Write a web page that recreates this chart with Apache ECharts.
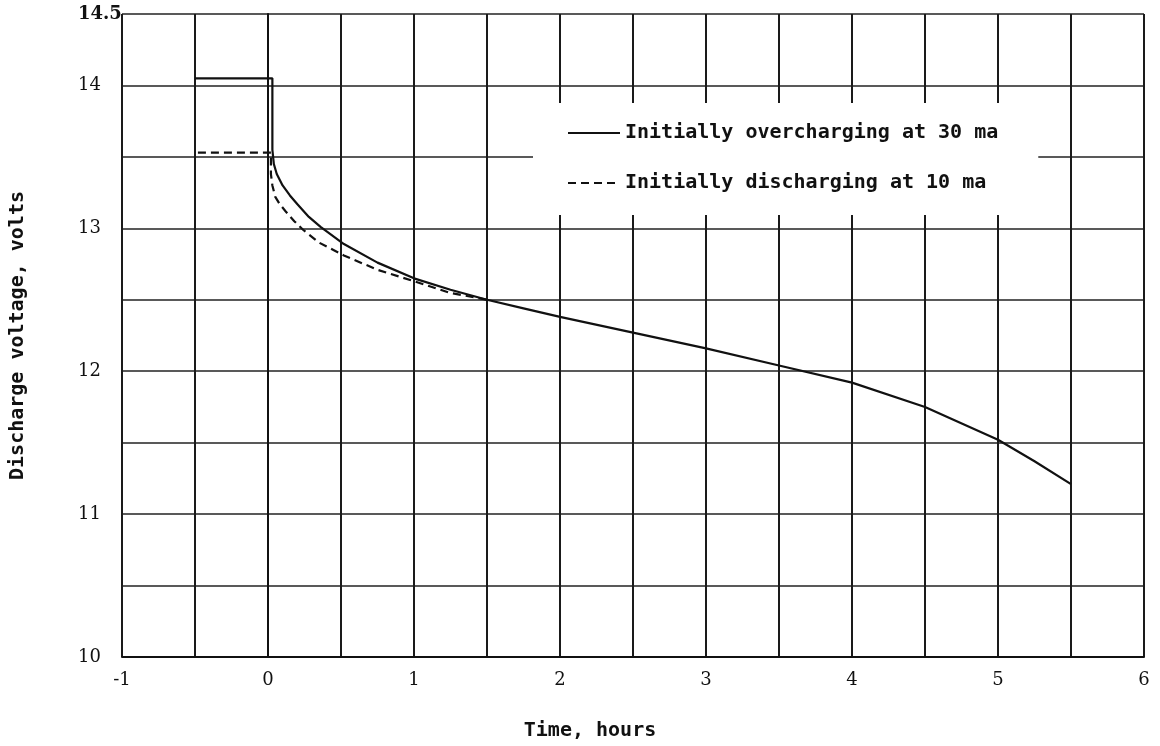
<!DOCTYPE html>
<html><head><meta charset="utf-8">
<script src="https://cdn.jsdelivr.net/npm/echarts@6/dist/echarts.min.js"></script>
<style>html,body{margin:0;padding:0;background:#fff}#c{width:1160px;height:746px}</style>
</head><body><div id="c"></div>
<script>
const seriesNames = ['Initially overcharging at 30 ma', 'Initially discharging at 10 ma'];
const overTime = [-0.5, 0.03, 0.03, 0.04, 0.06, 0.1, 0.15, 0.2, 0.28, 0.36, 0.52, 0.75, 1.0, 1.25, 1.5, 1.75, 2.0, 2.5, 3.0, 3.5, 4.0, 4.5, 5.0, 5.25, 5.5];
const overVolt = [14.05, 14.05, 13.55, 13.45, 13.38, 13.3, 13.23, 13.17, 13.08, 13.01, 12.89, 12.76, 12.65, 12.57, 12.5, 12.44, 12.38, 12.27, 12.16, 12.04, 11.92, 11.75, 11.52, 11.37, 11.21];
const disTime = [-0.48, 0.02, 0.02, 0.03, 0.05, 0.08, 0.12, 0.18, 0.24, 0.35, 0.52, 0.75, 1.0, 1.24, 1.5];
const disVolt = [13.53, 13.53, 13.38, 13.3, 13.22, 13.17, 13.12, 13.05, 12.99, 12.9, 12.81, 12.71, 12.63, 12.55, 12.5];
const xLabelTicks = [-1, 0, 1, 2, 3, 4, 5, 6];
const yLabelTicks = [10, 11, 12, 13, 14, 14.5];
const xTitle = 'Time, hours';
const yTitle = 'Discharge voltage, volts';

const zip = (a, b) => a.map((v, i) => [v, b[i]]);
const mono = 'DejaVu Sans Mono';
const serif = 'DejaVu Serif';
const chart = echarts.init(document.getElementById('c'), null, {renderer: 'canvas'});
chart.setOption({
  animation: false,
  backgroundColor: '#fff',
  grid: {left: 122, right: 16, top: 14, bottom: 88},
  legend: {
    orient: 'vertical', left: 533, top: 103,
    itemWidth: 52, itemHeight: 16, itemGap: 30,
    padding: [20, 40, 22, 34],
    backgroundColor: '#fff',
    itemStyle: {color: 'rgba(0,0,0,0)', borderColor: 'rgba(0,0,0,0)', borderWidth: 0},
    textStyle: {fontFamily: mono, fontWeight: 'bold', fontSize: 20, color: '#111'},
    data: seriesNames
  },
  xAxis: {
    type: 'value', min: -1, max: 6, interval: 0.5,
    axisLine: {show: true, lineStyle: {color: '#111', width: 2}},
    axisTick: {show: false},
    splitLine: {show: true, lineStyle: {color: '#1a1a1a', width: 2}},
    axisLabel: {
      margin: 14, color: '#111', fontFamily: serif, fontSize: 18,
      formatter: v => xLabelTicks.includes(v) ? String(v) : ''
    },
    name: xTitle, nameLocation: 'middle', nameGap: 64,
    nameTextStyle: {fontFamily: mono, fontWeight: 'bold', fontSize: 20, color: '#111', padding: [0, 86, 0, 0]}
  },
  yAxis: {
    type: 'value', min: 10, max: 14.5, interval: 0.5,
    axisLine: {show: true, lineStyle: {color: '#111', width: 2}},
    axisTick: {show: false},
    splitLine: {show: true, lineStyle: {color: '#222', width: 1.5}},
    axisLabel: {
      margin: 44, align: 'left', color: '#111', fontFamily: serif, fontSize: 18,
      formatter: v => yLabelTicks.includes(v) ? (v === 14.5 ? '{b|14.5}' : String(v)) : '',
      rich: {b: {fontFamily: serif, fontSize: 18, fontWeight: 'bold', color: '#111'}}
    },
    name: yTitle, nameLocation: 'middle', nameGap: 94, nameRotate: 90,
    nameTextStyle: {fontFamily: mono, fontWeight: 'bold', fontSize: 20, color: '#111'}
  },
  series: [
    {
      name: seriesNames[0], type: 'line', symbol: 'none', showSymbol: false,
      data: zip(overTime, overVolt),
      lineStyle: {color: '#111', width: 2.2, type: 'solid'},
      itemStyle: {color: '#111'}
    },
    {
      name: seriesNames[1], type: 'line', symbol: 'none', showSymbol: false,
      data: zip(disTime, disVolt),
      lineStyle: {color: '#111', width: 2.2, type: [8, 5]},
      itemStyle: {color: '#111'}
    }
  ]
});
</script></body></html>
